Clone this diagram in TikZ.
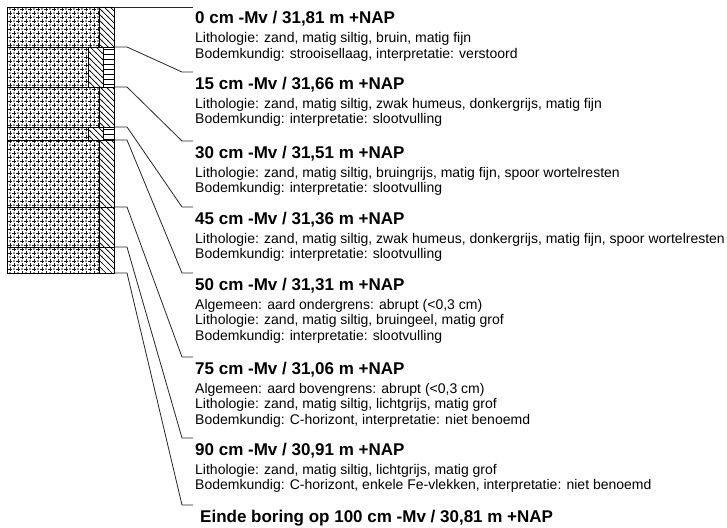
\documentclass[tikz,border=0pt]{standalone}
\usepackage{fontspec}
\setmainfont{Liberation Sans}
\usetikzlibrary{patterns}

\pgfdeclarepatternformonly{sandpat}{\pgfpoint{-1pt}{-1pt}}{\pgfpoint{9pt}{9pt}}{\pgfpoint{8pt}{8pt}}{
  \pgfsetlinewidth{0.7pt}
  \pgfpathmoveto{\pgfpoint{0.4pt}{2pt}}\pgfpathlineto{\pgfpoint{3.6pt}{2pt}}
  \pgfpathmoveto{\pgfpoint{2pt}{0.4pt}}\pgfpathlineto{\pgfpoint{2pt}{3.6pt}}
  \pgfpathmoveto{\pgfpoint{4.4pt}{6pt}}\pgfpathlineto{\pgfpoint{7.6pt}{6pt}}
  \pgfpathmoveto{\pgfpoint{6pt}{4.4pt}}\pgfpathlineto{\pgfpoint{6pt}{7.6pt}}
  \pgfusepath{stroke}
  \pgfpathcircle{\pgfpoint{6pt}{2pt}}{0.8pt}
  \pgfpathcircle{\pgfpoint{2pt}{6pt}}{0.8pt}
  \pgfusepath{fill}}
\pgfdeclarepatternformonly{siltpat}{\pgfpoint{-1pt}{-1pt}}{\pgfpoint{7pt}{7pt}}{\pgfpoint{6pt}{6pt}}{
  \pgfsetlinewidth{0.7pt}
  \pgfpathmoveto{\pgfpoint{-0.5pt}{6.5pt}}\pgfpathlineto{\pgfpoint{6.5pt}{-0.5pt}}
  \pgfusepath{stroke}}
\pgfdeclarepatternformonly{humpat}{\pgfpoint{-1pt}{0pt}}{\pgfpoint{6pt}{5pt}}{\pgfpoint{5pt}{5pt}}{
  \pgfsetlinewidth{0.7pt}
  \pgfpathmoveto{\pgfpoint{-1pt}{2.5pt}}\pgfpathlineto{\pgfpoint{6pt}{2.5pt}}
  \pgfusepath{stroke}}

\begin{document}
\begin{tikzpicture}[x=1pt,y=-1pt,
    hdr/.style={anchor=base west,inner sep=0pt,font=\fontsize{17}{20}\selectfont\bfseries},
    txt/.style={anchor=base west,inner sep=0pt,font=\fontsize{14}{16}\selectfont},
    lead/.style={line width=0.8pt,black!85}]
    \useasboundingbox (0,0) rectangle (727,527);

    \fill[pattern=sandpat,pattern color=black!90] (7,7) rectangle (99,47) (7,87) rectangle (99,127) (7,140) rectangle (99,273);
    \fill[pattern=sandpat,pattern color=black!90] (7,47) rectangle (88,87) (7,127) rectangle (88,140);
    \fill[pattern=siltpat] (99,7) rectangle (114,47) (99,87) rectangle (114,127) (99,140) rectangle (114,273);
    \fill[pattern=siltpat] (88,47) rectangle (103,87) (88,127) rectangle (103,140);
    \fill[pattern=humpat] (103,47) rectangle (114,87) (103,127) rectangle (114,140);

    \draw[line width=0.8pt] (7,7) rectangle (114,273);
    \draw[line width=0.8pt] (7,47) -- (114,47);
    \draw[line width=0.8pt] (7,87) -- (114,87);
    \draw[line width=0.8pt] (7,127) -- (114,127);
    \draw[line width=0.8pt] (7,140) -- (114,140);
    \draw[line width=0.8pt] (7,207) -- (114,207);
    \draw[line width=0.8pt] (7,247) -- (114,247);
    \draw[line width=0.8pt] (99,7) -- (99,47);
    \draw[line width=0.8pt] (88,47) -- (88,87);
    \draw[line width=0.8pt] (103,47) -- (103,87);
    \draw[line width=0.8pt] (99,87) -- (99,127);
    \draw[line width=0.8pt] (88,127) -- (88,140);
    \draw[line width=0.8pt] (103,127) -- (103,140);
    \draw[line width=0.8pt] (99,140) -- (99,273);

    \coordinate (c0) at (114,7);
    \coordinate (c15) at (114,47);
    \coordinate (c30) at (114,87);
    \coordinate (c45) at (114,127);
    \coordinate (c50) at (114,140);
    \coordinate (c75) at (114,207);
    \coordinate (c90) at (114,247);
    \coordinate (c100) at (114,273);

    \coordinate (e0) at (193,7);
    \coordinate (e15) at (193,72);
    \coordinate (e30) at (193,141);
    \coordinate (e45) at (193,207);
    \coordinate (e50) at (193,273);
    \coordinate (e75) at (193,357);
    \coordinate (e90) at (193,438);
    \coordinate (e100) at (193,505);

    \draw[lead] (c0) -- (e0);
    \draw[lead] (c15) -- ++(13,0) -- ([xshift=-11pt]e15) -- (e15);
    \draw[lead] (c30) -- ++(13,0) -- ([xshift=-11pt]e30) -- (e30);
    \draw[lead] (c45) -- ++(13,0) -- ([xshift=-11pt]e45) -- (e45);
    \draw[lead] (c50) -- ++(13,0) -- ([xshift=-11pt]e50) -- (e50);
    \draw[lead] (c75) -- ++(13,0) -- ([xshift=-11pt]e75) -- (e75);
    \draw[lead] (c90) -- ++(13,0) -- ([xshift=-11pt]e90) -- (e90);
    \draw[lead] (c100) -- ++(13,0) -- ([xshift=-11pt]e100) -- (e100);

    \node[hdr] (h0) at (195,24) {0 cm -Mv / 31,81 m +NAP};
    \node[txt] (l0) at (195,43) {Lithologie: zand, matig siltig, bruin, matig fijn};
    \node[txt] (b0) at (195,58.5) {Bodemkundig: strooisellaag, interpretatie: verstoord};

    \node[hdr] (h15) at (195,89) {15 cm -Mv / 31,66 m +NAP};
    \node[txt] (l15) at (195,108) {Lithologie: zand, matig siltig, zwak humeus, donkergrijs, matig fijn};
    \node[txt] (b15) at (195,123.5) {Bodemkundig: interpretatie: slootvulling};

    \node[hdr] (h30) at (195,158) {30 cm -Mv / 31,51 m +NAP};
    \node[txt] (l30) at (195,177) {Lithologie: zand, matig siltig, bruingrijs, matig fijn, spoor wortelresten};
    \node[txt] (b30) at (195,192.5) {Bodemkundig: interpretatie: slootvulling};

    \node[hdr] (h45) at (195,224) {45 cm -Mv / 31,36 m +NAP};
    \node[txt] (l45) at (195,243) {Lithologie: zand, matig siltig, zwak humeus, donkergrijs, matig fijn, spoor wortelresten};
    \node[txt] (b45) at (195,258.5) {Bodemkundig: interpretatie: slootvulling};

    \node[hdr] (h50) at (195,290) {50 cm -Mv / 31,31 m +NAP};
    \node[txt] (a50) at (195,309) {Algemeen: aard ondergrens: abrupt (<0,3 cm)};
    \node[txt] (l50) at (195,324.5) {Lithologie: zand, matig siltig, bruingeel, matig grof};
    \node[txt] (b50) at (195,340) {Bodemkundig: interpretatie: slootvulling};

    \node[hdr] (h75) at (195,374) {75 cm -Mv / 31,06 m +NAP};
    \node[txt] (a75) at (195,393) {Algemeen: aard bovengrens: abrupt (<0,3 cm)};
    \node[txt] (l75) at (195,408.5) {Lithologie: zand, matig siltig, lichtgrijs, matig grof};
    \node[txt] (b75) at (195,424) {Bodemkundig: C-horizont, interpretatie: niet benoemd};

    \node[hdr] (h90) at (195,455) {90 cm -Mv / 30,91 m +NAP};
    \node[txt] (l90) at (195,474) {Lithologie: zand, matig siltig, lichtgrijs, matig grof};
    \node[txt] (b90) at (195,489.5) {Bodemkundig: C-horizont, enkele Fe-vlekken, interpretatie: niet benoemd};

    \node[hdr] (h100) at (200,522) {Einde boring op 100 cm -Mv / 30,81 m +NAP};
\end{tikzpicture}
\end{document}
